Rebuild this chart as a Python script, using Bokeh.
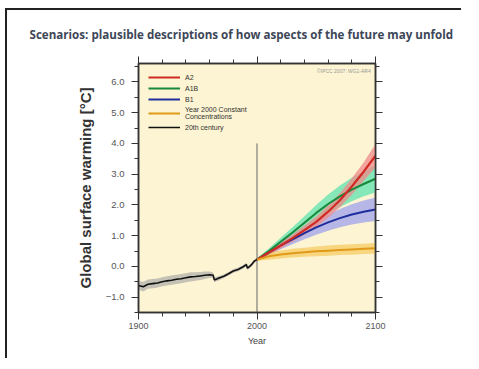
from bokeh.plotting import figure
from bokeh.models import (LinearAxis, FixedTicker, Range1d, Legend, LegendItem,
                          Label, Title)
from bokeh.embed import file_html
from bokeh.resources import INLINE

# ---------------- data ----------------
hist_years = [1900, 1904, 1908, 1912, 1916, 1920, 1924, 1928, 1932, 1936, 1940, 1944,
              1948, 1952, 1956, 1960, 1963, 1964, 1968, 1972, 1976, 1980, 1984, 1988,
              1991, 1992, 1995, 1998, 2000]
hist_temp = [-0.62, -0.66, -0.58, -0.56, -0.54, -0.50, -0.47, -0.45, -0.42, -0.40, -0.37, -0.34,
             -0.33, -0.31, -0.29, -0.27, -0.29, -0.44, -0.38, -0.32, -0.24, -0.15, -0.10, -0.02,
             0.06, -0.06, 0.04, 0.18, 0.22]
hist_low = [-0.76, -0.82, -0.73, -0.71, -0.69, -0.65, -0.62, -0.60, -0.57, -0.55, -0.52, -0.49,
            -0.47, -0.44, -0.41, -0.37, -0.37, -0.52, -0.45, -0.38, -0.30, -0.21, -0.16, -0.08,
            0.00, -0.12, -0.02, 0.12, 0.17]
hist_high = [-0.48, -0.50, -0.43, -0.41, -0.39, -0.35, -0.32, -0.30, -0.27, -0.25, -0.22, -0.19,
             -0.19, -0.18, -0.17, -0.17, -0.21, -0.36, -0.31, -0.26, -0.18, -0.09, -0.04, 0.04,
             0.12, 0.00, 0.10, 0.24, 0.27]

scen_years = [2000, 2010, 2020, 2030, 2040, 2050, 2060, 2070, 2080, 2090, 2100]
a2 = [0.22, 0.45, 0.68, 0.92, 1.18, 1.45, 1.78, 2.15, 2.60, 3.08, 3.60]
a2_low = [0.18, 0.38, 0.58, 0.80, 1.03, 1.28, 1.58, 1.92, 2.33, 2.78, 3.22]
a2_high = [0.26, 0.52, 0.78, 1.04, 1.33, 1.62, 1.98, 2.38, 2.87, 3.38, 3.98]
a1b = [0.22, 0.50, 0.80, 1.10, 1.42, 1.74, 2.03, 2.28, 2.50, 2.68, 2.85]
a1b_low = [0.18, 0.42, 0.67, 0.93, 1.20, 1.47, 1.72, 1.93, 2.12, 2.28, 2.40]
a1b_high = [0.26, 0.58, 0.93, 1.27, 1.63, 2.00, 2.34, 2.63, 2.88, 3.09, 3.30]
b1 = [0.22, 0.45, 0.68, 0.88, 1.08, 1.27, 1.43, 1.57, 1.69, 1.78, 1.85]
b1_low = [0.18, 0.37, 0.56, 0.72, 0.88, 1.03, 1.16, 1.27, 1.36, 1.43, 1.48]
b1_high = [0.26, 0.53, 0.80, 1.04, 1.28, 1.50, 1.70, 1.87, 2.02, 2.14, 2.24]
commit = [0.22, 0.33, 0.39, 0.43, 0.46, 0.49, 0.51, 0.53, 0.55, 0.57, 0.59]
commit_low = [0.18, 0.22, 0.26, 0.29, 0.31, 0.33, 0.35, 0.37, 0.38, 0.40, 0.41]
commit_high = [0.26, 0.44, 0.52, 0.57, 0.61, 0.65, 0.68, 0.70, 0.72, 0.74, 0.76]

x_major = [1900, 2000, 2100]
x_minor = [1920, 1940, 1960, 1980, 2020, 2040, 2060, 2080]
y_major = [-1.0, 0.0, 1.0, 2.0, 3.0, 4.0, 5.0, 6.0]
y_labels = ["\u22121.0", "0.0", "1.0", "2.0", "3.0", "4.0", "5.0", "6.0"]
y_minor = [-1.5, -0.5, 0.5, 1.5, 2.5, 3.5, 4.5, 5.5, 6.5]

title_text = "Scenarios: plausible descriptions of how aspects of the future may unfold"
legend_labels = ["A2", "A1B", "B1", "Year 2000 Constant\nConcentrations", "20th century"]
divider_year = 2000
divider_top = 4.0

# ---------------- figure ----------------
p = figure(width=456, height=350, output_backend="svg", toolbar_location=None,
           x_range=Range1d(1900, 2100), y_range=Range1d(-1.5, 6.6),
           x_axis_location=None, y_axis_location=None,
           min_border_left=131, min_border_right=88, min_border_top=53, min_border_bottom=48,
           background_fill_color="#FCF4D2", border_fill_color="white")
p.grid.visible = False
p.outline_line_color = "#333333"
p.outline_line_width = 1.5
p.styles = {"border-left": "2px solid #222222", "border-top": "2px solid #222222",
            "margin-left": "5px", "margin-top": "8px"}

font = "Liberation Sans"


def style_axis(ax, labels=True):
    ax.axis_line_color = "#333333"
    ax.axis_line_width = 1.5
    ax.major_tick_line_color = "#333333"
    ax.minor_tick_line_color = "#333333"
    ax.major_tick_in = 0
    ax.major_tick_out = 7
    ax.minor_tick_in = 0
    ax.minor_tick_out = 4
    ax.major_label_text_font = font
    ax.major_label_text_color = "#555555"
    ax.major_label_text_font_size = "9px"
    ax.axis_label_text_font = font
    if not labels:
        ax.major_label_overrides = {t: "" for t in ax.ticker.ticks}
        ax.major_label_standoff = 0


xb = LinearAxis(ticker=FixedTicker(ticks=x_major, minor_ticks=x_minor), axis_label="Year")
style_axis(xb)
xb.major_label_standoff = 3
xb.axis_label_standoff = 4
xb.axis_label_text_font_size = "9px"
xb.axis_label_text_font_style = "normal"
xb.axis_label_text_color = "#444444"
p.add_layout(xb, "below")

xt = LinearAxis(ticker=FixedTicker(ticks=x_major, minor_ticks=x_minor))
style_axis(xt, labels=False)
p.add_layout(xt, "above")

yl = LinearAxis(ticker=FixedTicker(ticks=y_major, minor_ticks=y_minor),
                axis_label="Global surface warming [\u00b0C]")
style_axis(yl)
yl.major_label_text_font_size = "9.5px"
yl.major_label_overrides = {t: s for t, s in zip(y_major, y_labels)}
yl.major_label_standoff = 7
yl.axis_label_standoff = 9
yl.axis_label_text_font_size = "15px"
yl.axis_label_text_font_style = "bold"
yl.axis_label_text_color = "#333333"
p.add_layout(yl, "left")

yr = LinearAxis(ticker=FixedTicker(ticks=y_major, minor_ticks=y_minor))
style_axis(yr, labels=False)
p.add_layout(yr, "right")

p.add_layout(Title(text=title_text, align="left", offset=-109, text_font="Open Sans",
                   text_font_style="bold", text_font_size="11.6px", text_color="#3d4658",
                   standoff=29), "above")

# divider line
p.segment(x0=[divider_year], y0=[p.y_range.start], x1=[divider_year], y1=[divider_top],
          line_color="#666666", line_width=1)

# bands
p.varea(x=hist_years, y1=hist_low, y2=hist_high, fill_color="#8e9098", fill_alpha=0.5)
p.varea(x=scen_years, y1=b1_low, y2=b1_high, fill_color="#9a9cf0", fill_alpha=0.7)
p.varea(x=scen_years, y1=a1b_low, y2=a1b_high, fill_color="#5fe3b0", fill_alpha=0.75)
p.varea(x=scen_years, y1=a2_low, y2=a2_high, fill_color="#f08a8a", fill_alpha=0.75)
p.varea(x=scen_years, y1=commit_low, y2=commit_high, fill_color="#f5c24a", fill_alpha=0.6)

# lines
r_b1 = p.line(scen_years, b1, line_color="#1e2f9c", line_width=2)
r_a1b = p.line(scen_years, a1b, line_color="#168a3a", line_width=2)
r_a2 = p.line(scen_years, a2, line_color="#d02a24", line_width=2.2)
r_c = p.line(scen_years, commit, line_color="#e09a18", line_width=2)
r_h = p.line(hist_years, hist_temp, line_color="#111111", line_width=1.6)

legend = Legend(items=[LegendItem(label=legend_labels[0], renderers=[r_a2]),
                       LegendItem(label=legend_labels[1], renderers=[r_a1b]),
                       LegendItem(label=legend_labels[2], renderers=[r_b1]),
                       LegendItem(label=legend_labels[3], renderers=[r_c]),
                       LegendItem(label=legend_labels[4], renderers=[r_h])],
                location="top_left", background_fill_alpha=0, border_line_alpha=0,
                label_text_font=font, label_text_font_size="7px", label_text_color="#333333",
                glyph_width=32, glyph_height=8, label_height=8, spacing=3,
                label_standoff=5, padding=3, margin=7)
p.add_layout(legend)

p.add_layout(Label(x=2096, y=6.34, text="\u00a9IPCC 2007: WG1-AR4", text_align="right",
                   text_baseline="middle", text_font=font, text_font_size="5px",
                   text_color="#9a9a9a"))

open("out.html", "w").write(file_html(p, INLINE))
